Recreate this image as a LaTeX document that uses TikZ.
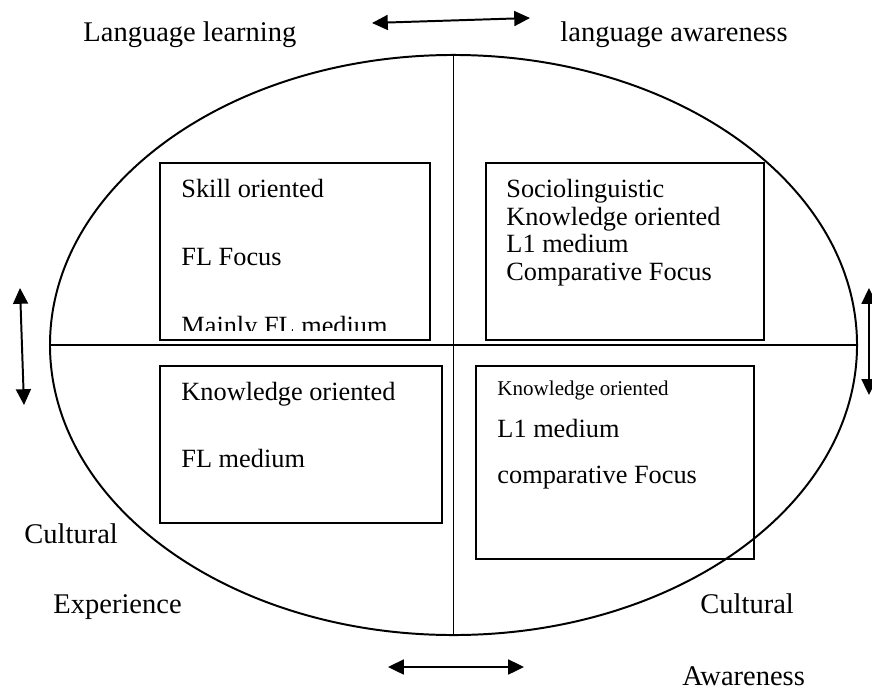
\documentclass[tikz,border=0pt]{standalone}
\usepackage{fontspec}
\setmainfont{Liberation Serif}
\usetikzlibrary{arrows.meta,shapes.geometric}

\begin{document}
\begin{tikzpicture}[x=0.456pt, y=-0.456pt,
	quadbox/.style={draw, line width=0.7pt, rectangle, anchor=north west, inner sep=0pt},
	boxtext/.style={anchor=base west, inner sep=0pt, font=\fontsize{12}{14}\selectfont},
	smalltext/.style={anchor=base west, inner sep=0pt, font=\fontsize{9.6}{11}\selectfont},
	outerlabel/.style={anchor=base west, inner sep=0pt, font=\fontsize{13}{15}\selectfont},
	twoway/.style={{Triangle[length=7.2pt,width=6.8pt]}-{Triangle[length=7.2pt,width=6.8pt]}, line width=0.9pt}]

\useasboundingbox (0,0) rectangle (872,690);

% the oval and its two axes
\node (oval) [draw, ellipse, line width=0.9pt, inner sep=0pt,
	minimum width=368pt, minimum height=264.5pt] at (453.5,345) {};
\draw [line width=0.8pt] (oval.north) -- (oval.south);
\draw [line width=0.8pt] (oval.west) -- (oval.east);

% the four boxes
\node (tlbox) [quadbox, minimum width=123.1pt, minimum height=80.7pt] at (159,162) {};
\node (trbox) [quadbox, minimum width=126.8pt, minimum height=80.7pt] at (485,162) {};
\node (blbox) [quadbox, minimum width=128.6pt, minimum height=71.6pt] at (159,365) {};
\node (brbox) [quadbox, minimum width=126.8pt, minimum height=88pt] at (475,365) {};

\node (skill) [boxtext] at (181,197) {Skill oriented};
\node (flfocus) [boxtext] at (181,265) {FL Focus};
\begin{scope}
	\clip (159,162) rectangle (429,330);
	\node (mainly) [boxtext] at (181,334) {Mainly FL medium};
\end{scope}

\node (socio) [boxtext] at (506,197) {Sociolinguistic};
\node (knowtr) [boxtext] at (506,225) {Knowledge oriented};
\node (lonetr) [boxtext] at (506,252) {L1 medium};
\node (comptr) [boxtext] at (506,280) {Comparative Focus};

\node (knowbl) [boxtext] at (181,400) {Knowledge oriented};
\node (flmed) [boxtext] at (181,467) {FL medium};

\node (knowbr) [smalltext] at (497,395) {Knowledge oriented};
\node (lonebr) [boxtext] at (497,437) {L1 medium};
\node (compbr) [boxtext] at (497,483) {comparative Focus};

% labels round the oval
\node (langlearn) [outerlabel] at (83,42) {Language learning};
\node (langaware) [outerlabel] at (560,42) {language awareness};
\node (cultleft) [outerlabel] at (24,543) {Cultural};
\node (exper) [outerlabel] at (53,613) {Experience};
\node (cultright) [outerlabel] at (700,613) {Cultural};
\node (aware) [outerlabel] at (682,685) {Awareness};

% double arrows
\coordinate (topl) at (372,23);
\coordinate (topr) at (530,18);
\coordinate (leftt) at (20,288);
\coordinate (leftb) at (24,405);
\coordinate (rightt) at (869,288);
\coordinate (rightb) at (869,395);
\coordinate (botl) at (388,667);
\coordinate (botr) at (524,667);

\draw [twoway] (topl) -- (topr);
\draw [twoway] (leftt) -- (leftb);
\draw [twoway] (rightt) -- (rightb);
\draw [twoway] (botl) -- (botr);

\end{tikzpicture}
\end{document}
